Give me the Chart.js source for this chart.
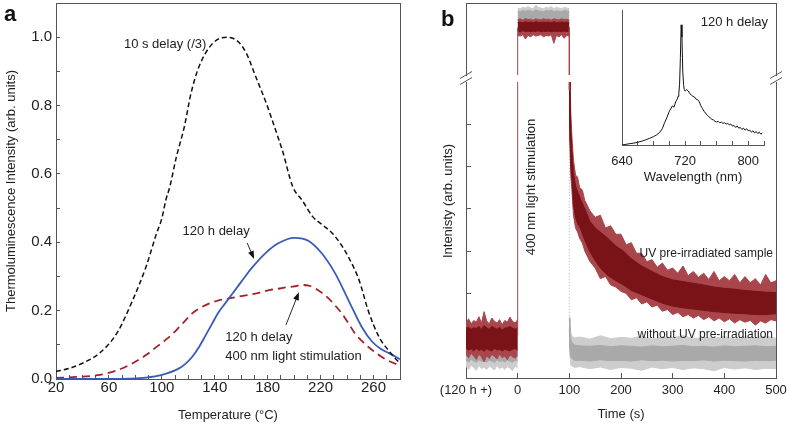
<!DOCTYPE html>
<html><head><meta charset="utf-8">
<script src="https://cdn.jsdelivr.net/npm/chart.js@4.4.0/dist/chart.umd.min.js"></script>
<style>
html,body{margin:0;padding:0;background:#fff;}
#wrap{position:relative;width:790px;height:427px;overflow:hidden;background:#fff;}
canvas{position:absolute;}
</style></head><body>
<div id="wrap">
<canvas id="ca" width="402" height="427" style="left:0;top:0;width:402px;height:427px"></canvas>
<canvas id="cbl" width="390" height="427" style="left:400px;top:0;width:390px;height:427px"></canvas>
<canvas id="cbu" width="390" height="90" style="left:400px;top:0;width:390px;height:90px"></canvas>
<canvas id="ci" width="190" height="190" style="left:600px;top:0;width:190px;height:190px"></canvas>
</div>
<script>
// ---------------- Panel a data ----------------
const blackT = [20,30,40,53,66,78,88,96,100,103,106,111,117,122,128,138,149,158,164,171,179,186,191,199,206,214,221,229,236,241,249,256,264,271,280];
const blackV = [0.022,0.031,0.046,0.076,0.134,0.231,0.328,0.426,0.47,0.523,0.562,0.65,0.738,0.835,0.913,0.98,1.0,0.986,0.952,0.884,0.806,0.728,0.67,0.562,0.523,0.475,0.452,0.426,0.39,0.357,0.29,0.2,0.124,0.085,0.045];
const blueT = [20,40,60,75,88,100,113,118,123,128,133,138,143,148,153,158,163,168,178,188,200,211,221,231,241,251,259,266,272,280];
const blueV = [0,0,0,0.001,0.004,0.012,0.031,0.045,0.065,0.093,0.127,0.162,0.196,0.222,0.248,0.274,0.3,0.325,0.367,0.397,0.413,0.404,0.367,0.309,0.231,0.153,0.109,0.087,0.075,0.058];
const redT = [20,35,53,66,78,88,96,104,111,117,123,130,136,143,151,158,166,174,181,188,194,200,206,211,216,221,226,231,236,241,246,251,256,261,266,272,280];
const redV = [0.003,0.006,0.012,0.025,0.046,0.07,0.094,0.118,0.143,0.168,0.192,0.21,0.221,0.23,0.236,0.241,0.246,0.253,0.26,0.264,0.268,0.271,0.275,0.273,0.265,0.252,0.236,0.215,0.192,0.163,0.133,0.112,0.094,0.079,0.065,0.052,0.039];

// ---------------- Panel b data (lower section, arb. units) ----------------
const timeTicks = [-100,0,100,200,300,400,500];
const tPre = [-100,-95,-90,-85,-80,-75,-70,-65,-60,-55,-50,-45,-40,-35,-30,-25,-20,-15,-10,-5,0];
const redPreHi     = [1.3,1.4,1.28,1.36,1.32,1.45,1.3,1.57,1.35,1.28,1.42,1.34,1.3,1.38,1.26,1.36,1.32,1.44,1.34,1.3,1.38];
const redPreCoreHi = [1.18,1.2,1.15,1.19,1.17,1.22,1.15,1.24,1.19,1.15,1.22,1.19,1.15,1.2,1.13,1.18,1.19,1.22,1.18,1.15,1.19];
const redPreCoreLo = [0.7,0.66,0.69,0.64,0.7,0.65,0.68,0.63,0.69,0.66,0.64,0.7,0.66,0.68,0.64,0.68,0.66,0.64,0.68,0.7,0.66];
const redPreLo     = [0.56,0.48,0.58,0.52,0.44,0.56,0.5,0.38,0.53,0.46,0.56,0.51,0.45,0.57,0.48,0.52,0.43,0.55,0.5,0.47,0.53];
const grayPreHi    = [0.95,0.98,0.94,0.97,0.95,0.99,0.94,0.98,0.96,0.94,0.98,0.95,0.94,0.97,0.93,0.96,0.95,0.98,0.95,0.94,0.97];
const grayPreLo    = [0.28,0.2,0.3,0.25,0.18,0.3,0.22,0.26,0.2,0.28,0.24,0.19,0.3,0.22,0.26,0.2,0.27,0.23,0.18,0.28,0.24];
const grayPreCoreLo= [0.42,0.38,0.44,0.4,0.37,0.43,0.39,0.41,0.38,0.42,0.4,0.37,0.43,0.39,0.41,0.38,0.42,0.4,0.37,0.42,0.4];

const tRedCore = [100,101,103,105,108,112,116,121,130,140,150,160,175,190,205,220,240,260,280,300,320,340,360,380,400,420,440,460,480,500];
const redCoreHi = [7.6,6.9,5.9,5.4,4.85,4.55,4.4,4.25,4.0,3.7,3.55,3.45,3.3,3.12,3.0,2.82,2.65,2.52,2.4,2.32,2.28,2.24,2.2,2.15,2.12,2.1,2.07,2.05,2.03,2.02];
const redCoreLo = [7.6,5.9,5.0,4.7,4.1,3.8,3.65,3.55,3.25,2.98,2.78,2.6,2.42,2.3,2.2,2.07,1.97,1.87,1.77,1.7,1.66,1.63,1.6,1.57,1.55,1.53,1.52,1.5,1.5,1.52];
const tRedOuter = [100,101,103,105,108,112,116,120,125,130,140,150,160,170,180,190,200,210,220,230,240,250,260,270,280,290,300,310,320,330,340,350,360,370,380,390,400,410,420,430,440,450,460,470,480,490,500];
const redOuterHi = [7.6,7.2,6.2,5.7,5.15,4.8,4.75,4.5,4.45,4.2,3.95,3.8,3.85,3.55,3.6,3.4,3.4,3.15,3.2,2.95,2.95,2.75,2.8,2.62,2.72,2.55,2.6,2.48,2.65,2.42,2.52,2.38,2.48,2.33,2.52,2.3,2.4,2.3,2.45,2.25,2.4,2.25,2.35,2.2,2.45,2.25,2.3];
const redOuterLo = [7.6,5.6,4.75,4.45,3.85,3.55,3.45,3.3,3.2,3.0,2.75,2.6,2.35,2.4,2.2,2.15,2.05,2.0,1.85,1.9,1.75,1.8,1.68,1.72,1.58,1.62,1.5,1.55,1.45,1.5,1.42,1.48,1.38,1.45,1.35,1.42,1.33,1.4,1.3,1.38,1.32,1.36,1.25,1.35,1.3,1.38,1.35];

const tGrayPost = [100,101,103,106,110,120,140,160,180,200,220,240,260,280,300,320,340,360,380,400,420,440,460,480,500];
const grayPostHi     = [1.45,1.3,1.05,0.98,0.95,0.97,0.92,1.0,0.93,0.96,0.94,0.99,0.92,0.97,0.95,1.0,0.93,0.96,0.94,0.98,0.92,0.97,0.95,0.99,0.94];
const grayPostCoreHi = [1.4,1.1,0.9,0.82,0.78,0.76,0.75,0.77,0.74,0.76,0.75,0.73,0.76,0.74,0.75,0.77,0.74,0.75,0.73,0.76,0.74,0.75,0.76,0.74,0.75];
const grayPostCoreLo = [1.2,0.7,0.5,0.45,0.42,0.42,0.4,0.43,0.41,0.42,0.4,0.43,0.41,0.42,0.4,0.42,0.41,0.43,0.4,0.42,0.41,0.4,0.42,0.41,0.42];
const grayPostLo     = [1.15,0.55,0.3,0.28,0.25,0.27,0.22,0.26,0.2,0.25,0.23,0.18,0.26,0.22,0.25,0.2,0.24,0.22,0.17,0.25,0.21,0.24,0.2,0.23,0.22];

// transitions of the traces at the start (0 s) and end (100 s) of stimulation
const redStepLowT0 = [0,0],   redStepLowV0 = [1.0,7.8];
const redStepLowT1 = [100,100], redStepLowV1 = [7.8,6.8];
const grayStepLowT1 = [100,100], grayStepLowV1 = [1.4,7.8];

// ---------------- Panel b data (upper section, during stimulation) ----------------
const tUp = [0,5,10,15,20,25,30,35,40,45,50,55,60,65,70,75,80,85,90,95,100];
const grayUpHi     = [9.3,9.2,9.4,9.3,9.5,9.3,9.2,9.7,9.4,9.3,9.2,9.4,9.3,9.5,9.2,9.4,9.3,9.2,9.4,9.3,9.2];
const grayUpCoreHi = [8.9,8.8,8.95,8.85,9.0,8.9,8.8,9.05,8.9,8.85,8.8,8.95,8.9,9.0,8.8,8.9,8.85,8.8,8.95,8.9,8.8];
const grayUpCoreLo = [7.6,7.5,7.65,7.55,7.6,7.5,7.6,7.55,7.65,7.5,7.6,7.55,7.6,7.5,7.65,7.55,7.6,7.5,7.6,7.55,7.6];
const redUpHi      = [7.7,7.8,7.6,7.85,7.7,7.75,7.6,7.8,7.7,7.65,7.8,7.7,7.75,7.6,7.8,7.7,7.65,7.8,7.7,7.75,7.6];
const redUpCoreHi  = [7.3,7.35,7.25,7.4,7.3,7.35,7.25,7.4,7.3,7.3,7.35,7.3,7.35,7.25,7.4,7.3,7.3,7.35,7.3,7.35,7.25];
const redUpCoreLo  = [6.1,6.0,6.15,6.05,6.1,6.0,6.1,6.05,6.15,6.0,6.1,6.05,6.1,6.0,6.1,6.05,6.1,6.0,6.1,6.05,6.1];
const redUpLo      = [5.5,5.4,5.6,5.0,5.5,5.3,5.6,5.4,5.5,5.6,5.3,5.5,5.4,5.6,4.4,5.5,5.3,5.6,5.1,5.5,5.4];
const redStepUpT0 = [0,0], redStepUpV0 = [-1,6.6];
const redStepUpT1 = [100,100], redStepUpV1 = [6.6,-1];

// ---------------- Inset spectrum ----------------
const wl = [640,645,650,655,660,665,670,675,680,684,688,691,694,697,700,702,704,706,708,710,711,712,713,714,715,716,717,718,719,720,722,724,726,728,730,732,734,736,738,740,742,744,746,748,750,752,754,756,758,760,762,764,766,768,770,772,774,776,778,780,782,784,786,788,790,792,794,796,798,800,802,804,806,808,810,812,814,816,818];
const spec = [0,0.005,0.01,0.014,0.02,0.028,0.038,0.05,0.062,0.075,0.095,0.12,0.165,0.205,0.25,0.27,0.29,0.28,0.32,0.34,0.36,0.38,0.45,0.65,0.89,0.8,0.55,0.45,0.41,0.4,0.41,0.4,0.38,0.37,0.36,0.355,0.34,0.335,0.32,0.29,0.27,0.25,0.235,0.22,0.21,0.2,0.19,0.185,0.175,0.17,0.175,0.165,0.17,0.16,0.165,0.155,0.16,0.15,0.155,0.14,0.145,0.13,0.14,0.125,0.13,0.115,0.125,0.11,0.12,0.105,0.11,0.095,0.105,0.09,0.1,0.085,0.095,0.08,0.09];
const wlTicks = [640,720,800];

// ---------------- helpers ----------------
const FAM = '"Liberation Sans", Arial, Helvetica, sans-serif';
Chart.defaults.font.family = FAM;
Chart.defaults.color = '#222';
const AX = '#555';
const RED_CORE = '#7a1318', RED_OUT = '#a8464c', GRAY_CORE = '#a9a9a9', GRAY_OUT = '#cdcdcd';
const zip = (xs, ys) => xs.map((x, i) => ({x: x, y: ys[i]}));
const line = (xs, ys, o) => Object.assign({data: zip(xs, ys), pointRadius: 0, borderWidth: 1, fill: false, tension: 0}, o);
function band(xs, hi, lo, color) {
  return [line(xs, hi, {borderColor: color, backgroundColor: color, fill: '+1', borderWidth: 1}),
          line(xs, lo, {borderColor: color, borderWidth: 1})];
}
function noPad(s) { s.paddingTop = 0; s.paddingBottom = 0; s.paddingLeft = 0; s.paddingRight = 0; }
function fitH(h) { return s => { s.height = h; noPad(s); }; }
function fitW(w) { return s => { s.width = w; noPad(s); }; }
function borderOnly(pos) {
  return {type: 'linear', position: pos, min: 0, max: 1, display: true,
    ticks: {display: false}, grid: {display: false},
    border: {display: true, color: AX, width: 1},
    afterFit: s => { if (s.isHorizontal()) s.height = 0; else s.width = 0; noPad(s); }};
}
const annot = {
  id: 'annot',
  afterDraw(chart, args, opts) {
    const ctx = chart.ctx, xs = chart.scales.x, ys = chart.scales.y;
    const P = o => [o.px !== undefined ? o.px : xs.getPixelForValue(o.x),
                    o.py !== undefined ? o.py : ys.getPixelForValue(o.y)];
    ctx.save();
    (opts.arrows || []).forEach(a => {
      const [x1, y1] = P(a.from), [x2, y2] = P(a.to);
      const ang = Math.atan2(y2 - y1, x2 - x1), c = Math.cos(ang), s = Math.sin(ang);
      ctx.strokeStyle = '#111'; ctx.fillStyle = '#111'; ctx.lineWidth = 0.9;
      ctx.beginPath(); ctx.moveTo(x1, y1); ctx.lineTo(x2 - 5 * c, y2 - 5 * s); ctx.stroke();
      ctx.beginPath(); ctx.moveTo(x2, y2);
      ctx.lineTo(x2 - 8 * c + 3 * s, y2 - 8 * s - 3 * c);
      ctx.lineTo(x2 - 8 * c - 3 * s, y2 - 8 * s + 3 * c);
      ctx.closePath(); ctx.fill();
    });
    (opts.texts || []).forEach(t => {
      const [x, y] = P(t);
      ctx.save();
      ctx.font = t.font || ('13px ' + FAM);
      ctx.fillStyle = t.color || '#222';
      ctx.textAlign = t.align || 'left';
      ctx.textBaseline = t.baseline || 'middle';
      ctx.translate(x, y); if (t.rot) ctx.rotate(t.rot);
      ctx.fillText(t.text, 0, 0);
      ctx.restore();
    });
    (opts.breaks || []).forEach(b => {
      ctx.strokeStyle = AX; ctx.lineWidth = 1;
      [b.y1, b.y2].forEach(yy => { ctx.beginPath(); ctx.moveTo(b.x - 6, yy + 3.5); ctx.lineTo(b.x + 6, yy - 3.5); ctx.stroke(); });
    });
    ctx.restore();
  }
};
const base = {responsive: false, animation: false, events: [],
  plugins: {legend: {display: false}, tooltip: {enabled: false}}};

// ---------------- Panel a ----------------
new Chart(document.getElementById('ca'), {
  type: 'line',
  data: {datasets: [
    line(blackT, blackV, {borderColor: '#111', borderWidth: 1.5, borderDash: [5, 3], cubicInterpolationMode: 'monotone'}),
    line(blueT, blueV, {borderColor: '#3a5bb6', borderWidth: 1.8, cubicInterpolationMode: 'monotone'}),
    line(redT, redV, {borderColor: '#a3222a', borderWidth: 1.8, borderDash: [8, 5], cubicInterpolationMode: 'monotone'})
  ]},
  plugins: [annot],
  options: Object.assign({}, base, {
    layout: {padding: {left: 0, top: 3, right: 2, bottom: 0}},
    plugins: Object.assign({}, base.plugins, {annot: {
      texts: [
        {x: 133.6, y: 0.98, text: '10 s delay (/3)', align: 'right'},
        {x: 115.6, y: 0.433, text: '120 h delay'},
        {x: 147.9, y: 0.123, text: '120 h delay'},
        {x: 147.9, y: 0.067, text: '400 nm light stimulation'},
        {px: 4, py: 21, text: 'a', font: 'bold 22px ' + FAM, baseline: 'alphabetic', color: '#111'}
      ],
      arrows: [
        {from: {x: 164.5, y: 0.398}, to: {x: 169.7, y: 0.351}},
        {from: {x: 193.8, y: 0.158}, to: {x: 203.6, y: 0.254}}
      ]}}),
    scales: {
      x: {type: 'linear', position: 'bottom', min: 20, max: 280,
        afterFit: fitH(48),
        ticks: {stepSize: 10, autoSkip: false, maxRotation: 0, padding: 4, font: {size: 15}, color: '#222',
          callback: v => ((v - 20) % 40 === 0 ? String(v) : '')},
        grid: {drawOnChartArea: false, drawTicks: true, tickLength: -4, color: AX},
        border: {display: true, color: AX, width: 1},
        title: {display: true, text: 'Temperature (°C)', font: {size: 13}, color: '#222', padding: {top: 0, bottom: 4}}},
      y: {type: 'linear', position: 'left', min: 0, max: 1.1,
        afterFit: fitW(56),
        ticks: {stepSize: 0.1, autoSkip: false, padding: 8, font: {size: 15}, color: '#222',
          callback: v => { const r = Math.round(v * 10); return (r % 2 === 0 && r <= 10) ? (r / 10).toFixed(1) : ''; }},
        grid: {drawOnChartArea: false, drawTicks: true, tickLength: -4, color: AX},
        border: {display: true, color: AX, width: 1},
        title: {display: true, text: 'Thermoluminescence Intensity (arb. units)', font: {size: 13}, color: '#222', padding: {top: 4, bottom: 0}}},
      x2: borderOnly('top'),
      y2: borderOnly('right')
    }
  })
});

// ---------------- Panel b, lower section ----------------
new Chart(document.getElementById('cbl'), {
  type: 'line',
  data: {datasets: [
    line(redStepLowT0, redStepLowV0, {borderColor: '#a8454a'}),
    line(redStepLowT1, redStepLowV1, {borderColor: '#a8454a'}),
    ...band(tPre, redPreCoreHi, redPreCoreLo, RED_CORE),
    ...band(tPre, redPreHi, redPreLo, RED_OUT),
    ...band(tRedCore, redCoreHi, redCoreLo, RED_CORE),
    ...band(tRedOuter, redOuterHi, redOuterLo, RED_OUT),
    line(grayStepLowT1, grayStepLowV1, {borderColor: '#b0b0b0', borderDash: [1, 2]}),
    ...band(tPre, grayPreHi, grayPreCoreLo, GRAY_CORE),
    ...band(tPre, grayPreHi, grayPreLo, GRAY_OUT),
    ...band(tGrayPost, grayPostCoreHi, grayPostCoreLo, GRAY_CORE),
    ...band(tGrayPost, grayPostHi, grayPostLo, GRAY_OUT)
  ]},
  plugins: [annot],
  options: Object.assign({}, base, {
    layout: {padding: {left: 0, top: 82, right: 14, bottom: 0}},
    plugins: Object.assign({}, base.plugins, {annot: {
      texts: [
        {px: 373, py: 254, text: 'UV pre-irradiated sample', align: 'right', font: '12px ' + FAM},
        {px: 373, py: 335, text: 'without UV pre-irradiation', align: 'right', font: '12px ' + FAM},
        {px: 131, py: 187, text: '400 nm light stimulation', align: 'center', rot: -Math.PI / 2},
        {px: 48, py: 201, text: 'Intenisty (arb. units)', align: 'center', rot: -Math.PI / 2},
        {px: 41, py: 26, text: 'b', font: 'bold 22px ' + FAM, baseline: 'alphabetic', color: '#111'}
      ],
      breaks: [{x: 66, y1: 75, y2: 81}, {x: 376, y1: 75, y2: 81}]
    }}),
    scales: {
      x: {type: 'linear', position: 'bottom', min: -100, max: 500,
        afterFit: fitH(49),
        afterBuildTicks: s => { s.ticks = timeTicks.map(v => ({value: v})); },
        ticks: {autoSkip: false, maxRotation: 0, padding: 10, font: {size: 13}, color: '#222',
          callback: v => (v === -100 ? '(120 h +)' : String(v))},
        grid: {drawOnChartArea: false, drawTicks: true, tickLength: -5, color: AX},
        border: {display: true, color: AX, width: 1},
        title: {display: true, text: 'Time (s)', font: {size: 13}, color: '#222', padding: {top: 0, bottom: 5}}},
      y: {type: 'linear', position: 'left', min: 0, max: 7,
        afterFit: fitW(66),
        ticks: {stepSize: 1, autoSkip: false, padding: 0, callback: v => ((v > 0 && v < 7) ? '' : null)},
        grid: {drawOnChartArea: false, drawTicks: true, tickLength: -5, color: AX},
        border: {display: true, color: AX, width: 1}},
      y2: borderOnly('right')
    }
  })
});

// ---------------- Panel b, upper section ----------------
new Chart(document.getElementById('cbu'), {
  type: 'line',
  data: {datasets: [
    line(redStepUpT0, redStepUpV0, {borderColor: '#a8454a'}),
    line(redStepUpT1, redStepUpV1, {borderColor: '#a8454a'}),
    ...band(tUp, redUpCoreHi, redUpCoreLo, RED_CORE),
    ...band(tUp, redUpHi, redUpLo, RED_OUT),
    ...band(tUp, grayUpCoreHi, grayUpCoreLo, GRAY_CORE),
    ...band(tUp, grayUpHi, grayUpCoreLo, GRAY_OUT)
  ]},
  options: Object.assign({}, base, {
    layout: {padding: {left: 0, top: 3, right: 14, bottom: 15}},
    scales: {
      x: {type: 'linear', min: -100, max: 500, display: false},
      y: {type: 'linear', position: 'left', min: 0, max: 10,
        afterFit: fitW(66),
        ticks: {display: false}, grid: {display: false},
        border: {display: true, color: AX, width: 1}},
      x2: borderOnly('top'),
      y2: borderOnly('right')
    }
  })
});

// ---------------- Inset ----------------
new Chart(document.getElementById('ci'), {
  type: 'line',
  data: {datasets: [line(wl, spec, {borderColor: '#111', borderWidth: 1})]},
  plugins: [annot],
  options: Object.assign({}, base, {
    layout: {padding: {left: 0, top: 10, right: 26, bottom: 0}},
    plugins: Object.assign({}, base.plugins, {annot: {
      texts: [{px: 168, py: 22, text: '120 h delay', align: 'right'}]
    }}),
    scales: {
      x: {type: 'linear', position: 'bottom', min: 640, max: 820,
        afterFit: fitH(45),
        ticks: {stepSize: 20, autoSkip: false, maxRotation: 0, padding: 13, font: {size: 13}, color: '#222',
          callback: v => (wlTicks.includes(v) ? String(v) : '')},
        grid: {drawOnChartArea: false, drawTicks: true, tickLength: -4, color: AX},
        border: {display: true, color: AX, width: 1},
        title: {display: true, text: 'Wavelength (nm)', font: {size: 13}, color: '#222', padding: {top: 0, bottom: 5}}},
      y: {type: 'linear', position: 'left', min: 0, max: 1,
        afterFit: fitW(22),
        ticks: {display: false}, grid: {display: false},
        border: {display: true, color: AX, width: 1}}
    }
  })
});
</script>
</body></html>
